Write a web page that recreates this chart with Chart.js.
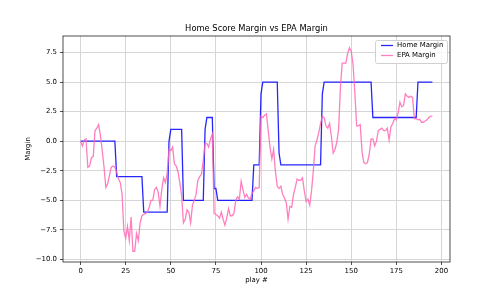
<!DOCTYPE html>
<html>
<head>
<meta charset="utf-8">
<script src="https://cdn.jsdelivr.net/npm/chart.js@4/dist/chart.umd.min.js"></script>
<style>
  html, body { margin: 0; padding: 0; background: #fff; }
  #wrap { width: 500px; height: 300px; }
</style>
</head>
<body>
<div id="wrap"><canvas id="chart" width="500" height="300"></canvas></div>
<script>
// EPA margin, one value per play (index = play #)
const epaMargin = [
  0.0, -0.4, 0.1, 0.2, -2.2, -2.1, -1.4, -1.3, 0.9, 1.1,
  1.4, 0.5, -0.8, -2.2, -3.9, -3.6, -2.9, -2.2, -2.1, -2.2,
  -2.6, -3.2, -3.5, -4.5, -7.6, -8.2, -7.2, -8.4, -6.4, -9.3,
  -9.3, -7.8, -8.4, -6.9, -6.3, -6.2, -6.1, -6.0, -5.6, -5.0,
  -5.0, -4.1, -3.9, -4.3, -5.5, -4.1, -3.1, -3.5, -2.7, -0.7,
  -0.8, -0.5, -1.9, -2.1, -2.6, -3.5, -4.6, -6.9, -6.6, -5.8,
  -6.0, -6.9, -5.4, -5.0, -4.5, -3.3, -3.0, -2.8, -1.6, -0.2,
  -0.2, -0.5, 0.2, 0.6, -6.1, -6.2, -6.3, -6.5, -6.0, -6.6,
  -7.1, -6.5, -5.7, -6.3, -6.3, -6.1, -5.0, -4.7, -4.9, -3.4,
  -4.1, -4.75, -4.5, -4.8, -4.9, -4.4, -4.2, -3.9, -4.0, -3.9,
  2.1, 2.0, 2.2, 2.3, 0.9, -0.5, -1.5, -0.7, -2.6, -3.8,
  -4.0, -3.8, -4.5, -4.8, -5.2, -6.6, -5.5, -5.6, -4.5, -3.9,
  -3.2, -3.3, -3.3, -3.1, -4.2, -5.1, -4.9, -5.4, -4.2, -2.5,
  -0.4, 0.1, 0.7, 1.5, 2.1, 2.0, 1.3, 1.1, 1.5, 0.4,
  -1.0, -0.7, -0.1, 1.0, 4.5, 6.6, 6.6, 6.6, 7.4, 7.9,
  7.6, 6.5, 4.1, 1.3, 1.3, 1.4, -0.9, -1.8, -1.9, -1.8,
  -1.1, 0.2, 0.2, -0.4, 0.0, 0.9, 1.0, 1.1, 0.9, 0.9,
  1.1, 0.1, 1.2, 1.5, 1.9, 1.8, 2.4, 3.3, 2.9, 3.0,
  4.0, 3.8, 3.7, 3.8, 3.7, 1.9, 1.9, 1.8, 1.85, 1.6,
  1.6, 1.7, 1.8, 2.0, 2.1, 2.15
];

// home score margin, only the plays where it changes
const homePlays  = [0, 19, 20, 34, 35, 48, 49, 50, 56, 57, 68, 69, 70, 73, 74, 75, 76,
                    95, 96, 99, 100, 101, 109, 110, 111, 133, 134, 135, 161, 162, 186, 187, 195];
const homeMargin = [0, 0, -3, -3, -6, -6, 0, 1, 1, -5, -5, 1, 2, 2, -4, -4, -5,
                    -5, -2, -2, 4, 5, 5, -1, -2, -2, 4, 5, 5, 2, 2, 5, 5];

const xTicks = [0, 25, 50, 75, 100, 125, 150, 175, 200];
const yTicks = [-10, -7.5, -5, -2.5, 0, 2.5, 5, 7.5];

Chart.defaults.font.family = "'DejaVu Sans', sans-serif";
Chart.defaults.color = '#000';

const TICK_FONT = 6.94;

// legend box inside the axes + black frame, like matplotlib
const frameAndLegend = {
  id: 'frameAndLegend',
  afterDatasetsDraw(chart) {
    const { ctx, chartArea: a } = chart;
    ctx.save();
    ctx.strokeStyle = '#222';
    ctx.lineWidth = 0.8;
    ctx.strokeRect(a.left, a.top, a.right - a.left, a.bottom - a.top);

    const w = 72, h = 23;
    const x = a.right - 3 - w, y = a.top + 4;
    ctx.beginPath();
    ctx.roundRect(x + 0.5, y + 0.5, w, h, 2);
    ctx.fillStyle = 'rgba(255,255,255,0.8)';
    ctx.fill();
    ctx.strokeStyle = '#d0d0d0';
    ctx.lineWidth = 1;
    ctx.stroke();

    ctx.font = TICK_FONT + "px 'DejaVu Sans'";
    ctx.textBaseline = 'middle';
    ctx.fillStyle = '#000';
    chart.data.datasets.forEach((ds, i) => {
      const cy = y + 5.5 + i * 10;
      ctx.beginPath();
      ctx.moveTo(x + 6, cy);
      ctx.lineTo(x + 18, cy);
      ctx.strokeStyle = ds.borderColor;
      ctx.lineWidth = ds.borderWidth;
      ctx.stroke();
      ctx.fillText(ds.label, x + 22, cy);
    });
    ctx.restore();
  }
};

const fmt = v => v.toFixed(1).replace('-', '\u2212');

new Chart(document.getElementById('chart'), {
  type: 'line',
  data: {
    datasets: [
      {
        label: 'Home Margin',
        data: homePlays.map((p, i) => ({ x: p, y: homeMargin[i] })),
        borderColor: 'rgba(0,0,255,0.85)',
        borderWidth: 1.3,
        pointRadius: 0,
        tension: 0,
        order: 1
      },
      {
        label: 'EPA Margin',
        data: epaMargin.map((v, i) => ({ x: i, y: v })),
        borderColor: 'rgba(255,105,180,0.85)',
        borderWidth: 1.3,
        pointRadius: 0,
        tension: 0,
        order: 0
      }
    ]
  },
  options: {
    responsive: false,
    animation: false,
    devicePixelRatio: 1,
    layout: { padding: { left: 0, right: 50, top: 0, bottom: 0 } },
    plugins: {
      legend: { display: false },
      tooltip: { enabled: false },
      title: {
        display: true,
        text: 'Home Score Margin vs EPA Margin',
        fullSize: false,
        color: '#000',
        font: { size: 8.33, weight: 'normal' },
        padding: { top: 24, bottom: 2 }
      }
    },
    scales: {
      x: {
        type: 'linear',
        min: -9.75,
        max: 204.75,
        afterBuildTicks: s => { s.ticks = xTicks.map(v => ({ value: v })); },
        afterFit: s => { s.height = 38; },
        ticks: { autoSkip: false, maxRotation: 0, padding: 2, font: { size: TICK_FONT }, callback: v => String(v) },
        grid: { color: '#d6d6d6', lineWidth: 1, tickLength: 3, tickColor: '#222', tickWidth: 0.8 },
        border: { display: false },
        title: { display: true, text: 'play #', font: { size: TICK_FONT }, padding: { top: 0, bottom: 16 } }
      },
      y: {
        min: -10.21,
        max: 8.89,
        afterBuildTicks: s => { s.ticks = yTicks.map(v => ({ value: v })); },
        afterFit: s => { s.width = 63; },
        ticks: { autoSkip: false, padding: 3, font: { size: TICK_FONT }, callback: v => fmt(v) },
        grid: { color: '#d6d6d6', lineWidth: 1, tickLength: 3, tickColor: '#222', tickWidth: 0.8 },
        border: { display: false },
        title: { display: true, text: 'Margin', font: { size: TICK_FONT }, padding: { top: 24, bottom: 0 } }
      }
    }
  },
  plugins: [frameAndLegend]
});
</script>
</body>
</html>
